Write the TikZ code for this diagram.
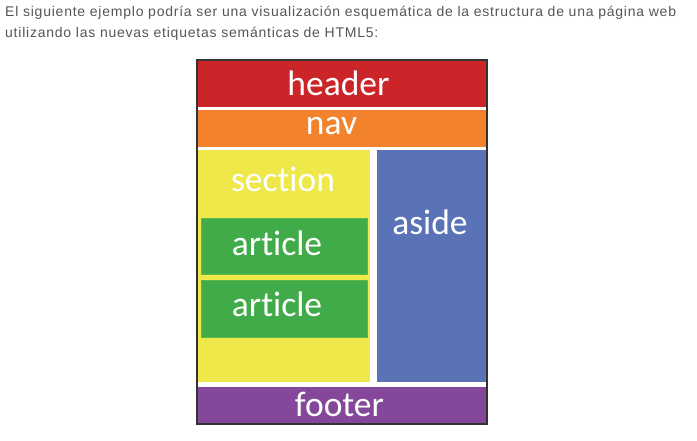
\documentclass[tikz,border=0pt]{standalone}
\usepackage{fontspec}
\setmainfont{Liberation Sans}
\newfontfamily\calib[Ligatures=NoCommon]{Carlito}
\newfontfamily\introfont[LetterSpace=5.5]{Liberation Sans}
\definecolor{introgray}{HTML}{555555}
\definecolor{hdrred}{HTML}{CC2529}
\definecolor{navorange}{HTML}{F2822C}
\definecolor{secyellow}{HTML}{EFE84A}
\definecolor{asideblue}{HTML}{5A73B7}
\definecolor{artgreen}{HTML}{41AB4A}
\definecolor{artedge}{HTML}{5DB84A}
\definecolor{footpurple}{HTML}{84479A}
\definecolor{frame}{HTML}{333333}
\tikzset{
  blk/.style={anchor=north west, inner sep=0pt, outer sep=0pt, draw=none},
  lbl/.style={text=white, font=\calib\fontsize{35.5}{36}\selectfont, inner sep=0pt},
  intro/.style={anchor=base west, inner sep=0pt, text=introgray, font=\introfont\fontsize{14}{17}\selectfont}
}
\begin{document}
\begin{tikzpicture}[x=1pt,y=-1pt]
\useasboundingbox (0,0) rectangle (697,440);
\node[intro] (l1) at (5,16) {El siguiente ejemplo podría ser una visualización esquemática de la estructura de una página web};
\node[intro] (l2) at (5,37) {utilizando las nuevas etiquetas semánticas de HTML5:};
% frame
\node[blk, fill=white, minimum width=290, minimum height=364] (page) at (197,60) {};
\node[blk, fill=hdrred, minimum width=290, minimum height=47] (header) at (197,60) {};
\node[blk, fill=navorange, minimum width=290, minimum height=37] (nav) at (197,110) {};
\node[blk, fill=secyellow, minimum width=173, minimum height=232] (section) at (197,150) {};
\node[blk, fill=asideblue, minimum width=110, minimum height=232] (aside) at (377,150) {};
\node[blk, fill=artgreen, draw=artedge, line width=0.6pt, minimum width=166, minimum height=56] (art1) at (201,218) {};
\node[blk, fill=artgreen, draw=artedge, line width=0.6pt, minimum width=166, minimum height=57] (art2) at (201,280) {};
\node[blk, fill=footpurple, minimum width=290, minimum height=37] (footer) at (197,387) {};
\draw[frame, line width=1.2pt] (page.north west) rectangle (page.south east);
% labels
\node[lbl] (theader) at (338.5,83.5) {header};
\node[lbl] (tnav) at (331.5,126.5) {nav};
\node[lbl] (tsection) at (283,179.5) {section};
\node[lbl] (tart1) at (277,243) {article};
\node[lbl] (tart2) at (277,304) {article};
\node[lbl] (taside) at (430,222.5) {aside};
\node[lbl] (tfooter) at (339.5,404.5) {footer};
\end{tikzpicture}
\end{document}
